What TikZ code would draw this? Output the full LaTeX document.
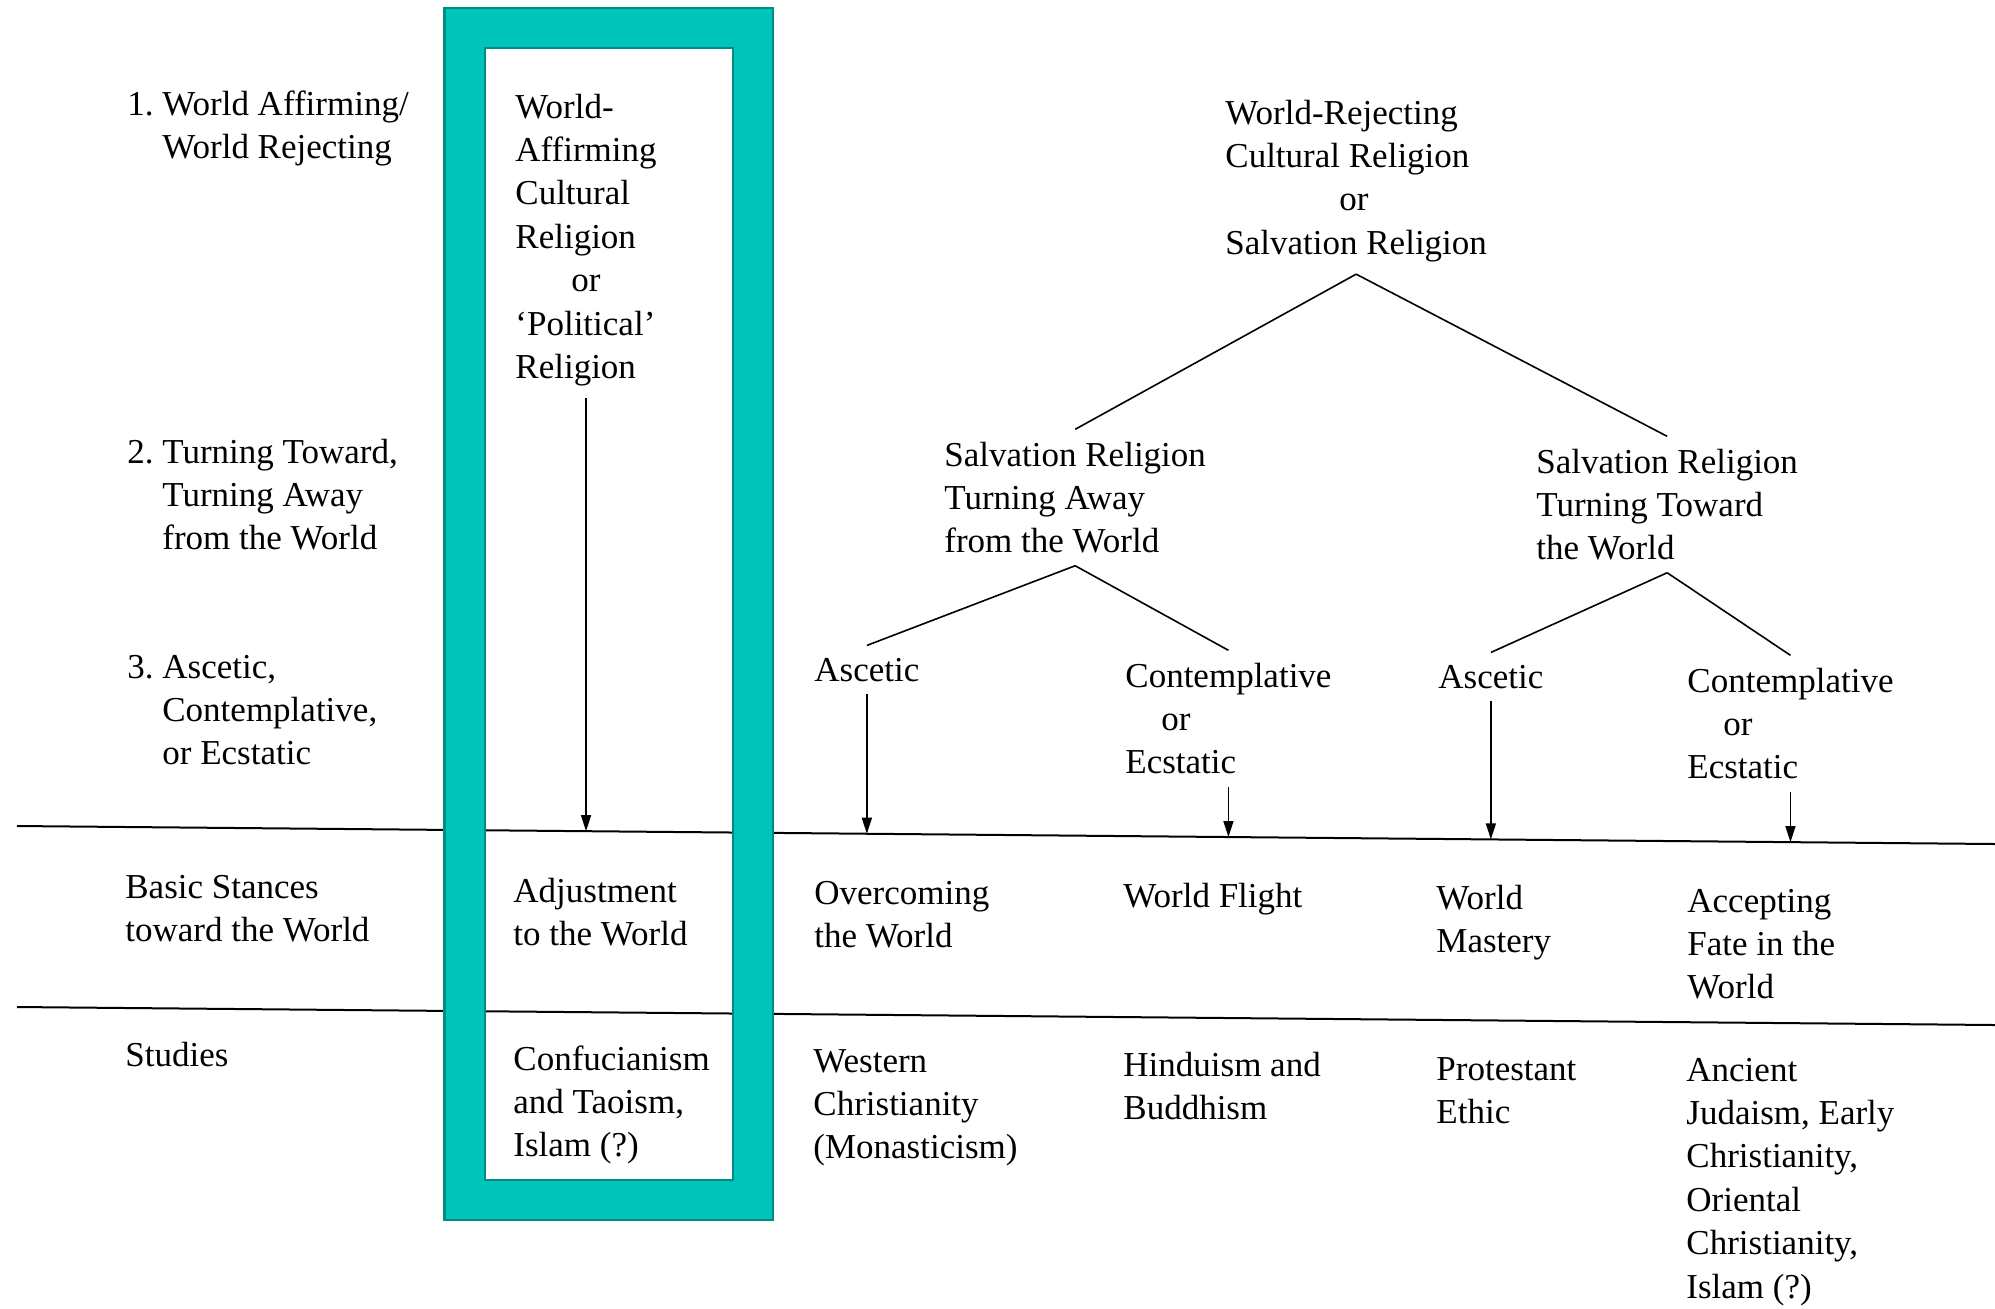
\documentclass[tikz,border=0pt]{standalone}
\usepackage{fontspec}
\setmainfont{Liberation Serif}
\usetikzlibrary{calc,arrows.meta}
\definecolor{hlteal}{RGB}{0,196,185}
\definecolor{hledge}{RGB}{0,140,128}

\begin{document}
\begin{tikzpicture}[x=0.5pt,y=-0.5pt,
  lbl/.style={anchor=base west,align=left,inner xsep=0pt,inner ysep=6pt,
    font=\fontsize{17.5}{21.7}\selectfont},
  rule/.style={line width=1pt},
  branch/.style={line width=0.8pt},
  arr/.style={-{Triangle[length=8pt,width=5pt]},line width=0.7pt}]
  \useasboundingbox (0,0) rectangle (1995,1308);

  % rules
  \coordinate (r1a) at (17,826);
  \coordinate (r1b) at (1995,844);
  \coordinate (r2a) at (17,1007);
  \coordinate (r2b) at (1995,1025);
  \draw[rule] (r1a) -- (r1b);
  \draw[rule] (r2a) -- (r2b);

  % highlight
  \node[draw=hledge,line width=1.2pt,double=hlteal,double distance=19pt,
    minimum width=144.25pt,minimum height=586pt,inner sep=0pt](hl) at (608.75,614){};

  % levels (nodes sit on the baseline of their last line)
  \node[lbl](lev1) at (127,158.4){1.\ World Affirming/\\\phantom{1.\ }World Rejecting};
  \node[lbl](lev2) at (127,549.8){2.\ Turning Toward,\\\phantom{2.\ }Turning Away\\\phantom{2.\ }from the World};
  \node[lbl](lev3) at (127,764.8){3.\ Ascetic,\\\phantom{3.\ }Contemplative,\\\phantom{3.\ }or Ecstatic};
  \node[lbl](stance) at (125,941.4){Basic Stances\\toward the World};
  \node[lbl](study) at (125,1066){Studies};

  % affirming
  \node[lbl](aff) at (515,378.4){World-\\Affirming\\Cultural\\Religion\\\hspace*{28pt}or\\`Political'\\Religion};
  \node[lbl](affst) at (513,945.4){Adjustment\\to the World};
  \node[lbl](affsd) at (513,1156.8){Confucianism\\and Taoism,\\Islam (?)};

  % rejecting
  \node[lbl](rej) at (1225,254.2){World-Rejecting\\Cultural Religion\\\hspace*{57pt}or\\Salvation Religion};
  \node[lbl](away) at (944,552.8){Salvation Religion\\Turning Away\\from the World};
  \node[lbl](toward) at (1536,559.8){Salvation Religion\\Turning Toward\\the World};
  \node[lbl](awayasc) at (814,681){Ascetic};
  \node[lbl](awaycon) at (1125,773.8){Contemplative\\\hspace*{18pt}or\\Ecstatic};
  \node[lbl](towasc) at (1438,688){Ascetic};
  \node[lbl](towcon) at (1687,778.8){Contemplative\\\hspace*{18pt}or\\Ecstatic};

  % stances
  \node[lbl](awayascst) at (814,947.4){Overcoming\\the World};
  \node[lbl](awayconst) at (1123,907){World Flight};
  \node[lbl](towascst) at (1436,952.4){World\\Mastery};
  \node[lbl](towconst) at (1687,998.8){Accepting\\Fate in the\\World};

  % studies
  \node[lbl](awayascsd) at (813,1158.8){Western\\Christianity\\(Monasticism)};
  \node[lbl](awayconsd) at (1123,1119.4){Hinduism and\\Buddhism};
  \node[lbl](towascsd) at (1436,1123.4){Protestant\\Ethic};
  \node[lbl](towconsd) at (1686,1298){Ancient\\Judaism, Early\\Christianity,\\Oriental\\Christianity,\\Islam (?)};

  % feet of the arrows on the first rule
  \coordinate (afffoot) at ($(r1a)!(aff.south)!(r1b)$);
  \coordinate (awayascfoot) at ($(r1a)!(awayasc.south)!(r1b)$);
  \coordinate (awayconfoot) at ($(r1a)!(awaycon.south)!(r1b)$);
  \coordinate (towascfoot) at ($(r1a)!(towasc.south)!(r1b)$);
  \coordinate (towconfoot) at ($(r1a)!(towcon.south)!(r1b)$);

  \path[branch]
  (rej.south) edge (away.north)
  (rej.south) edge (toward.north)
  (away.south) edge (awayasc.north)
  (away.south) edge (awaycon.north)
  (toward.south) edge (towasc.north)
  (toward.south) edge (towcon.north);
  \path[arr]
  (aff.south) edge (aff.south |- afffoot)
  (awayasc.south) edge (awayasc.south |- awayascfoot)
  (awaycon.south) edge (awaycon.south |- awayconfoot)
  (towasc.south) edge (towasc.south |- towascfoot)
  (towcon.south) edge (towcon.south |- towconfoot);
\end{tikzpicture}
\end{document}
